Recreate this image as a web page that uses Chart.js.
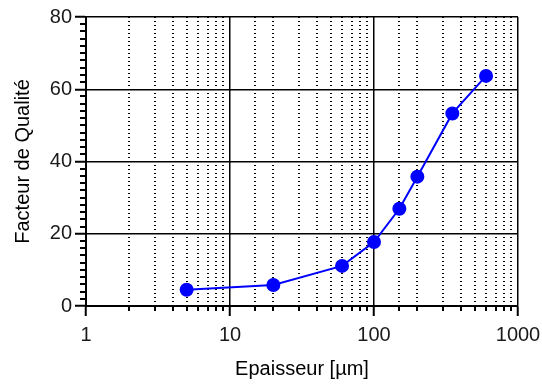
<!DOCTYPE html>
<html>
<head>
<meta charset="utf-8">
<script src="https://cdn.jsdelivr.net/npm/chart.js@4"></script>
<style>
  html, body { margin: 0; padding: 0; background: #fff; }
  #wrap { width: 542px; height: 385px; }
</style>
</head>
<body>
<div id="wrap"><canvas id="qualityChart"></canvas></div>
<script>
  // Epaisseur [µm] vs Facteur de Qualité
  const thickness = [5, 20, 60, 100, 150, 200, 350, 600];
  const quality = [4.5, 5.8, 11.1, 17.7, 26.9, 35.8, 53.3, 63.7];
  const xLabels = [1, 10, 100, 1000];
  const yLabels = [0, 20, 40, 60, 80];

  const isMajorX = (v) => xLabels.some((l) => Math.abs(l - v) < 1e-6);
  const isMajorY = (v) => yLabels.includes(v);

  // short ticks for the minor values (Chart.js uses a single tick length)
  const minorTicks = {
    id: "minorTicks",
    afterDraw(chart) {
      const ctx = chart.ctx;
      const x = chart.scales.x;
      const y = chart.scales.y;
      ctx.save();
      ctx.strokeStyle = "#000";
      ctx.lineWidth = 2;
      ctx.beginPath();
      x.ticks.forEach((t) => {
        if (isMajorX(t.value)) return;
        const px = Math.round(x.getPixelForValue(t.value));
        ctx.moveTo(px, x.top);
        ctx.lineTo(px, x.top + 5);
      });
      y.ticks.forEach((t) => {
        if (isMajorY(t.value)) return;
        const py = Math.round(y.getPixelForValue(t.value));
        ctx.moveTo(y.right - 6, py);
        ctx.lineTo(y.right, py);
      });
      ctx.stroke();
      ctx.restore();
    },
  };

  const ctx = document.getElementById("qualityChart").getContext("2d");

  new Chart(ctx, {
    type: "scatter",
    data: {
      datasets: [
        {
          data: thickness.map((t, i) => ({ x: t, y: quality[i] })),
          showLine: true,
          borderColor: "#0000ff",
          backgroundColor: "#0000ff",
          borderWidth: 2,
          pointRadius: 6,
          pointHoverRadius: 6,
        },
      ],
    },
    options: {
      responsive: true,
      maintainAspectRatio: false,
      animation: false,
      layout: { padding: { left: 0, top: 17, right: 24, bottom: 0 } },
      plugins: {
        legend: { display: false },
        tooltip: { enabled: false },
      },
      scales: {
        x: {
          type: "logarithmic",
          position: "bottom",
          min: 1,
          max: 1000,
          afterFit: (s) => {
            s.height = 79;
            s.paddingLeft = 0;
            s.paddingRight = 0;
          },
          border: { color: "#000", width: 2 },
          grid: {
            color: (c) => (c.tick && isMajorX(c.tick.value) ? "#000" : "rgba(0,0,0,0)"),
            tickColor: (c) => (c.tick && isMajorX(c.tick.value) ? "#000" : "rgba(0,0,0,0)"),
            lineWidth: 1.5,
            tickWidth: 2,
            tickLength: 10,
          },
          ticks: {
            autoSkip: false,
            maxRotation: 0,
            padding: 7,
            color: "#1a1a1a",
            font: { family: "Liberation Sans", size: 20 },
            callback: (v) => (isMajorX(v) ? String(Math.round(v)) : ""),
          },
          title: {
            display: true,
            text: "Epaisseur [µm]",
            color: "#000",
            font: { family: "Liberation Sans", size: 20 },
            padding: { top: 0, bottom: 4 },
          },
        },
        x2: {
          type: "logarithmic",
          position: "bottom",
          min: 1,
          max: 1000,
          afterFit: (s) => {
            s.height = 0;
            s.paddingLeft = 0;
            s.paddingRight = 0;
          },
          border: { display: false, dash: [1, 3] },
          grid: {
            color: (c) => (c.tick && !isMajorX(c.tick.value) ? "#000" : "rgba(0,0,0,0)"),
            lineWidth: 2,
            drawTicks: false,
          },
          ticks: { display: false },
        },
        y: {
          min: 0,
          max: 80,
          afterFit: (s) => {
            s.width = 86;
            s.paddingTop = 0;
            s.paddingBottom = 0;
          },
          border: { color: "#000", width: 2 },
          grid: {
            color: (c) => (isMajorY(c.tick.value) ? "#000" : "rgba(0,0,0,0)"),
            tickColor: (c) => (isMajorY(c.tick.value) ? "#000" : "rgba(0,0,0,0)"),
            lineWidth: 1.5,
            tickWidth: 2,
            tickLength: 11,
          },
          ticks: {
            stepSize: 2,
            autoSkip: false,
            padding: 3,
            color: "#1a1a1a",
            font: { family: "Liberation Sans", size: 20 },
            callback: (v) => (isMajorY(v) ? String(v) : ""),
          },
          title: {
            display: true,
            text: "Facteur de Qualité",
            color: "#000",
            font: { family: "Liberation Sans", size: 20 },
            padding: { top: 11, bottom: 0 },
          },
        },
      },
    },
    plugins: [minorTicks],
  });
</script>
</body>
</html>
